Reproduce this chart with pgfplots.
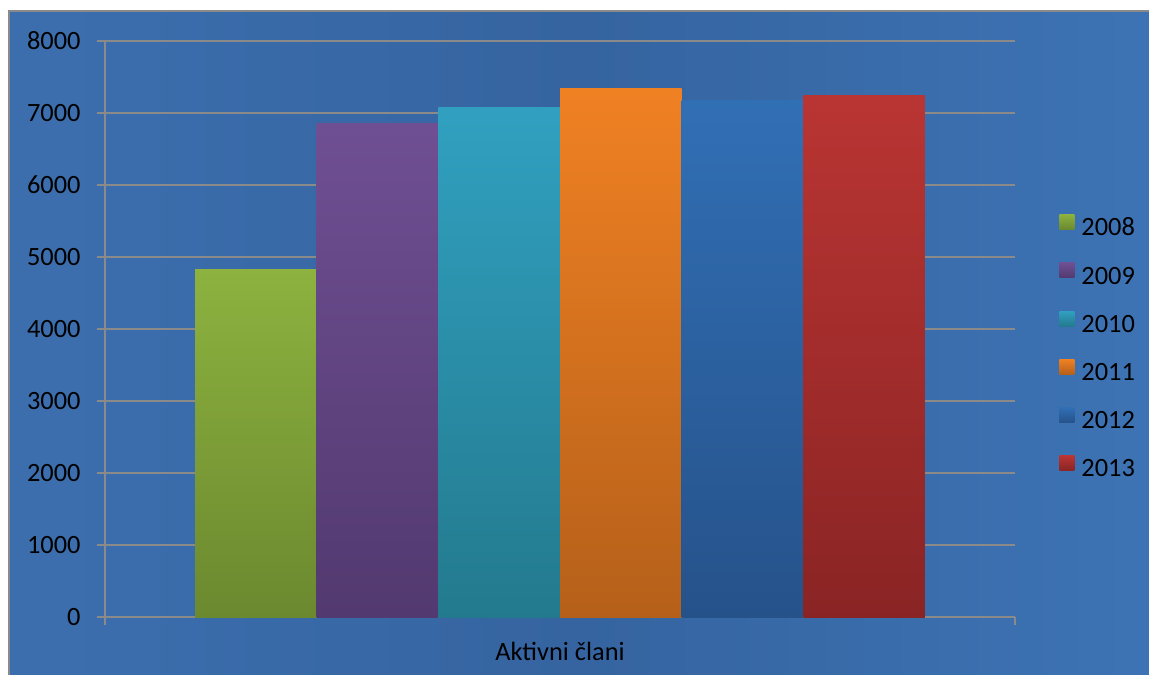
\documentclass[border=0pt]{standalone}
\usepackage{fontspec}
\setmainfont{Carlito}
\usepackage{pgfplots}
\pgfplotsset{compat=1.18}
\definecolor{bgL}{HTML}{4479BD}
\definecolor{bgM}{HTML}{3564A0}
\definecolor{bgR}{HTML}{4582C8}
\definecolor{gridc}{HTML}{8A8A8A}
\definecolor{gT}{HTML}{8DB23F}\definecolor{gB}{HTML}{6B892F}
\definecolor{pT}{HTML}{6F4F93}\definecolor{pB}{HTML}{52396F}
\definecolor{tT}{HTML}{31A0C0}\definecolor{tB}{HTML}{237A8E}
\definecolor{oT}{HTML}{F08123}\definecolor{oB}{HTML}{B5601A}
\definecolor{bT}{HTML}{316FB5}\definecolor{bB}{HTML}{26528A}
\definecolor{rT}{HTML}{B93533}\definecolor{rB}{HTML}{8A2424}
\pgfdeclarehorizontalshading{bgsh}{100bp}{color(0bp)=(bgL); color(50bp)=(bgM); color(100bp)=(bgR)}
\begin{document}
\begin{tikzpicture}
\useasboundingbox (0,0) rectangle (574.5pt,337pt);
\fill[white] (0,0) rectangle (574.5pt,337pt);
\shade[shading=bgsh] (4pt,0) rectangle (574.5pt,331.5pt);
\begin{scope}
\clip (0,0) rectangle (574.5pt,337pt);
\draw[gridc, line width=1pt] (4.25pt,-2pt) -- (4.25pt,331.25pt) -- (577pt,331.25pt);
\end{scope}
\begin{axis}[
  at={(52.5pt,28.5pt)}, anchor=south west,
  scale only axis, width=455pt, height=288pt,
  xmin=-1, xmax=1, ymin=0, ymax=8000,
  ybar=0pt, bar width=60.83pt,
  axis x line*=bottom, axis y line*=left,
  axis line style={gridc, line width=0.8pt, -},
  xtick={-1,1}, xticklabels={},
  extra x ticks={0}, extra x tick labels={Aktivni člani},
  extra x tick style={major tick length=0pt, grid=none,
     xticklabel style={yshift=-9pt}},
  ytick={0,1000,...,8000},
  ymajorgrids, grid style={gridc, line width=0.8pt},
  tick style={gridc, line width=0.8pt},
  tick align=outside, major tick length=4pt,
  /pgf/number format/assume math mode=true,
  /pgf/number format/1000 sep={},
  every tick label/.append style={font=\fontsize{13.2}{15}\selectfont, text=black},
  yticklabel style={inner sep=0pt, xshift=-8pt},
  legend style={at={(1,0.5)}, anchor=west, xshift=22pt, yshift=-9pt,
     draw=none, fill=none, inner sep=0pt, row sep=12pt,
     font=\fontsize{13.2}{15}\selectfont, text=black,
     nodes={inner sep=0pt}, /tikz/column sep=3.5pt},
  legend cell align=left,
  legend image code/.code={\path[#1, draw=none] (0pt,-0.45pt) rectangle (7.5pt,7.05pt);},
]
\addplot[draw=none, top color=gT, bottom color=gB] coordinates {(0,4833)};
\addplot[draw=none, top color=pT, bottom color=pB] coordinates {(0,6857)};
\addplot[draw=none, top color=tT, bottom color=tB] coordinates {(0,7083)};
\addplot[draw=none, top color=oT, bottom color=oB] coordinates {(0,7347)};
\addplot[draw=none, top color=bT, bottom color=bB] coordinates {(0,7180)};
\addplot[draw=none, top color=rT, bottom color=rB] coordinates {(0,7240)};
\legend{2008,2009,2010,2011,2012,2013}
\end{axis}
\end{tikzpicture}
\end{document}
